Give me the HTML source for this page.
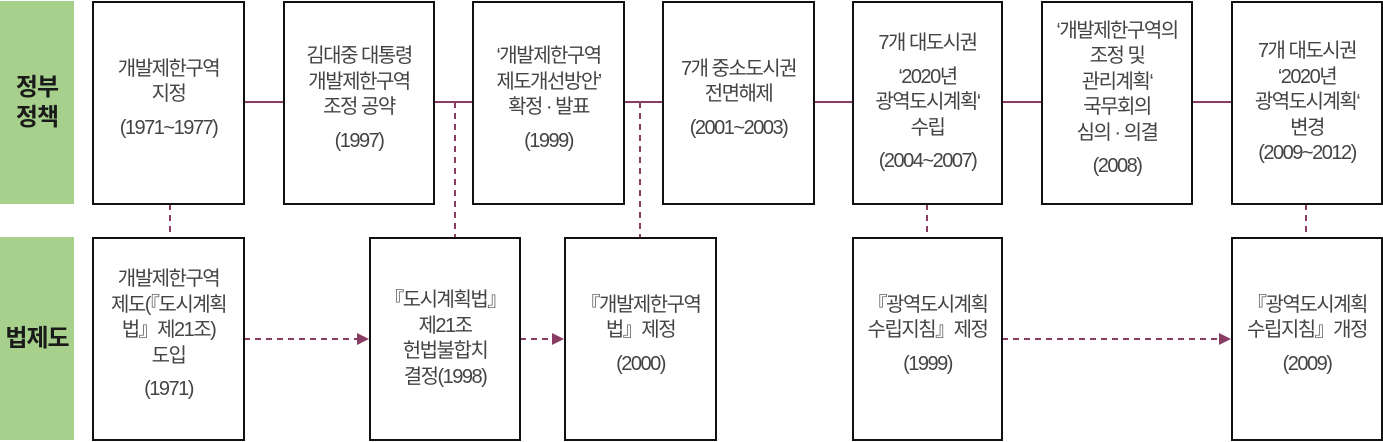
<!DOCTYPE html>
<html><head><meta charset="utf-8"><style>
body{margin:0;width:1383px;height:442px;background:#fff;position:relative;overflow:hidden;font-family:"Liberation Sans","Noto Sans CJK KR",sans-serif;}
.g{position:absolute;left:0;width:74px;background:#a6d08b;display:flex;align-items:center;justify-content:center;text-align:center;font-weight:bold;font-size:24px;line-height:30px;color:#1a1a1a;letter-spacing:-1px;}
.b{position:absolute;box-sizing:border-box;border:2px solid #111;background:#fff;display:flex;align-items:center;justify-content:center;text-align:center;font-size:20px;line-height:25.5px;color:#444;letter-spacing:-1.5px;white-space:nowrap;}
.b p{margin:8px 0;}
svg{position:absolute;left:0;top:0;}
</style></head><body>
<div class="g" style="top:1px;height:203px">정부<br>정책</div>
<div class="g" style="top:237px;height:203px">법제도</div>
<svg width="1383" height="442">
<g stroke="#8a3d64" stroke-width="2">
<line x1="244" y1="102" x2="1231" y2="102"/>
<g stroke-dasharray="6,5">
<line x1="170" y1="204" x2="170" y2="237"/>
<line x1="455" y1="102" x2="455" y2="237"/>
<line x1="640" y1="102" x2="640" y2="237"/>
<line x1="927" y1="204" x2="927" y2="237"/>
<line x1="1306" y1="204" x2="1306" y2="237"/>
<line x1="244" y1="339" x2="358" y2="339"/>
<line x1="520" y1="339" x2="553" y2="339"/>
<line x1="1002" y1="339" x2="1220" y2="339"/>
</g></g>
<g fill="#8a3d64">
<polygon points="357,333 369,339 357,345"/>
<polygon points="552,333 564,339 552,345"/>
<polygon points="1219,333 1231,339 1219,345"/>
</g>
</svg>
<div class="b" style="left:92px;top:1px;width:153px;height:204px"><div>개발제한구역<br>지정<p>(1971~1977)</p></div></div>
<div class="b" style="left:283px;top:1px;width:152px;height:204px"><div>김대중 대통령<br>개발제한구역<br>조정 공약<p>(1997)</p></div></div>
<div class="b" style="left:472px;top:1px;width:153px;height:204px"><div>‘개발제한구역<br>제도개선방안’<br>확정 · 발표<p>(1999)</p></div></div>
<div class="b" style="left:662px;top:1px;width:153px;height:204px"><div>7개 중소도시권<br>전면해제<p>(2001~2003)</p></div></div>
<div class="b" style="left:852px;top:1px;width:151px;height:204px"><div>7개 대도시권<p>‘2020년<br>광역도시계획‘<br>수립</p>(2004~2007)</div></div>
<div class="b" style="left:1041px;top:1px;width:152px;height:204px"><div>‘개발제한구역의<br>조정 및<br>관리계획‘<br>국무회의<br>심의 · 의결<p>(2008)</p></div></div>
<div class="b" style="left:1231px;top:1px;width:152px;height:204px"><div>7개 대도시권<br>‘2020년<br>광역도시계획‘<br>변경<br>(2009~2012)</div></div>
<div class="b" style="left:92px;top:237px;width:153px;height:204px"><div>개발제한구역<br>제도(『도시계획<br>법』제21조)<br>도입<p>(1971)</p></div></div>
<div class="b" style="left:369px;top:237px;width:152px;height:204px"><div>『도시계획법』<br>제21조<br>헌법불합치<br>결정(1998)</div></div>
<div class="b" style="left:564px;top:237px;width:153px;height:204px"><div>『개발제한구역<br>법』제정<p>(2000)</p></div></div>
<div class="b" style="left:852px;top:237px;width:151px;height:204px"><div>『광역도시계획<br>수립지침』제정<p>(1999)</p></div></div>
<div class="b" style="left:1231px;top:237px;width:152px;height:204px"><div>『광역도시계획<br>수립지침』개정<p>(2009)</p></div></div>
</body></html>
